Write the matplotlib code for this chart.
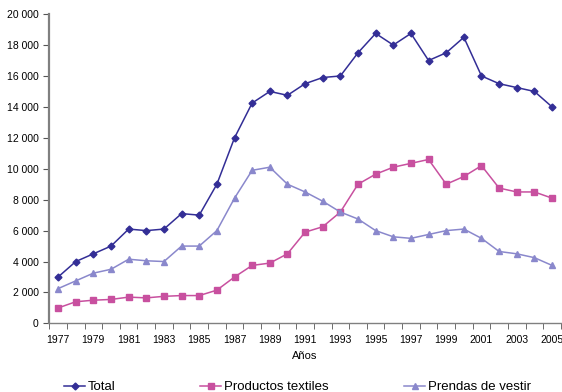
import numpy as np
import matplotlib.pyplot as plt
from matplotlib.ticker import FuncFormatter

plt.rcParams['font.family'] = ['Liberation Sans', 'DejaVu Sans']

# Data
years = list(range(1977, 2006))
total = [3000, 4000, 4500, 5000, 6100, 6000, 6100, 7100, 7000, 9000,
         12000, 14250, 15000, 14750, 15500, 15900, 16000, 17500, 18750, 18000,
         18750, 17000, 17500, 18500, 16000, 15500, 15250, 15000, 14000]
textiles = [1000, 1400, 1500, 1550, 1700, 1650, 1750, 1800, 1800, 2150,
            3000, 3750, 3900, 4500, 5900, 6250, 7200, 9000, 9650, 10100,
            10350, 10600, 9000, 9500, 10200, 8750, 8500, 8500, 8100]
prendas = [2250, 2750, 3250, 3500, 4150, 4050, 4000, 5000, 5000, 6000,
           8100, 9900, 10100, 9000, 8500, 7900, 7200, 6750, 6000, 5600,
           5500, 5750, 6000, 6100, 5500, 4650, 4500, 4250, 3750]

x = np.arange(len(years))

fig = plt.figure(figsize=(5.62, 3.92), dpi=100)
ax = fig.add_axes([0.0877, 0.175, 0.9103, 0.789])

l1, = ax.plot(x, total, color='#332e96', marker='D', markersize=3.5, lw=1.1, label='Total')
l2, = ax.plot(x, textiles, color='#c8509f', marker='s', markersize=4.5, lw=1.1, label='Productos textiles')
l3, = ax.plot(x, prendas, color='#8a88cc', marker='^', markersize=5, lw=1.1, label='Prendas de vestir')

ax.set_xlim(-0.5, len(years) - 0.5)
ax.set_ylim(0, 20000)
ax.set_yticks(range(0, 20001, 2000))
ax.yaxis.set_major_formatter(FuncFormatter(lambda v, p: f'{int(v):,}'.replace(',', ' ')))

ax.set_xticks(x[::2])
ax.set_xticklabels([str(y) for y in years[::2]])
ax.set_xticks(np.arange(-0.5, len(years)), minor=True)
ax.tick_params(axis='x', which='major', length=0, labelsize=7.5, pad=8)
ax.tick_params(axis='x', which='minor', length=4, color='#555555', direction='out')
ax.tick_params(axis='y', length=4, labelsize=7.5, color='#555555', direction='out')

for s in ['top', 'right']:
    ax.spines[s].set_visible(False)
ax.spines['left'].set_color('#808080')
ax.spines['left'].set_linewidth(1.6)
ax.spines['bottom'].set_color('#808080')
ax.spines['bottom'].set_linewidth(1.0)

ax.set_xlabel('Años', fontsize=8, labelpad=5)

# legend entries placed individually, like the original
for h, xpos in [(l1, 64), (l2, 200), (l3, 404)]:
    fig.legend(handles=[h], loc='center left', bbox_to_anchor=(xpos / 562, 1 - 387 / 392),
               frameon=False, fontsize=9.5, handlelength=1.6, handletextpad=0.2,
               borderpad=0, borderaxespad=0)

fig.savefig('out.png', dpi=100)
